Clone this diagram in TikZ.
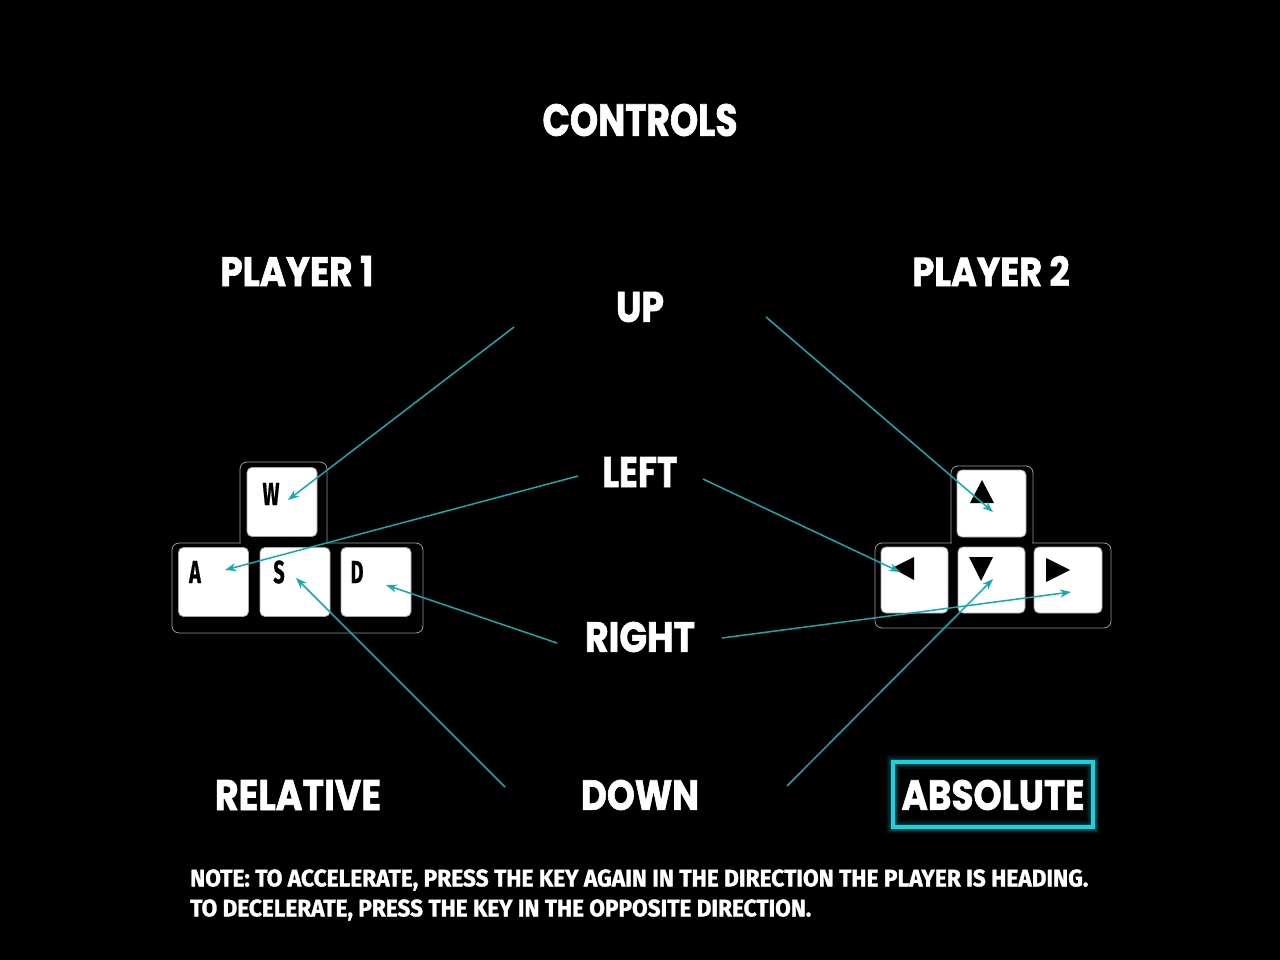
\documentclass[tikz,border=0pt]{standalone}
\usepackage{fontspec}
\usepackage{graphicx}
\usetikzlibrary{arrows.meta}
\newfontfamily\headfont{Poppins}[BoldFeatures={FakeBold=1.6}]
\newfontfamily\notefont{Fira Sans}[BoldFeatures={FakeBold=1.4}]
\newfontfamily\keyfont{Fira Sans}[BoldFeatures={FakeBold=0.8}]
\definecolor{teal1}{HTML}{14A9B0}
\definecolor{glow}{HTML}{19D3E0}
\newcommand\hd[2]{\resizebox{#1pt}{30pt}{\headfont\bfseries #2}}
\tikzset{
  head/.style={text=white, inner sep=0pt, anchor=center},
  keycap/.style={fill=white, draw=gray!70, line width=0.8pt, rounded corners=5pt, minimum width=70pt, minimum height=69pt, inner sep=0pt},
  keyback/.style={fill=black, draw=gray!75, line width=0.8pt, rounded corners=7pt},
  keyletter/.style={font=\keyfont\bfseries\fontsize{32}{32}\selectfont, inner sep=0pt, xscale=0.62},
  link/.style={draw=teal1, line width=1.5pt, -{Stealth[length=11pt,width=8pt]}},
  tri/.style={fill=black},
  notetext/.style={text=white, inner sep=0pt, anchor=west}
}
\begin{document}
\begin{tikzpicture}[x=1pt,y=-1pt]
\fill[black] (0,0) rectangle (1280,960);
\useasboundingbox (0,0) rectangle (1280,960);

% titles
\node[head] (title) at (640,120) {\resizebox{195pt}{32pt}{\headfont\bfseries CONTROLS}};
\node[head] (p1) at (297,271) {\hd{153}{PLAYER 1}};
\node[head] (p2) at (991,271) {\hd{157}{PLAYER 2}};
\node[head] (up) at (640,307) {\hd{48}{UP}};
\node[head] (left) at (640,472) {\hd{75}{LEFT}};
\node[head] (right) at (640,637) {\hd{110}{RIGHT}};
\node[head] (down) at (640,795) {\hd{118}{DOWN}};
\node[head] (rel) at (298,795) {\hd{166}{RELATIVE}};
\node[head] (abs) at (993,795) {\hd{183}{ABSOLUTE}};

% glowing box around ABSOLUTE
\foreach \w/\o in {14/0.06, 10/0.10, 7/0.18}{
  \draw[glow, line width=\w pt, opacity=\o] (893,762) rectangle (1093,827);
}
\node[draw=glow, line width=4pt, minimum width=200pt, minimum height=65pt, inner sep=0pt] (absbox) at (993,794.5) {};

% left keys backing
\draw[keyback] (240,462) rectangle (327,552);
\draw[keyback] (172,543) rectangle (423,633);
\fill[black, rounded corners=6pt] (241,463) rectangle (326,552);
\fill[black, rounded corners=6pt] (173,544) rectangle (422,632);
\node[keycap] (W) at (282,502) {};
\node[keycap] (A) at (213.5,582) {};
\node[keycap] (S) at (295,582) {};
\node[keycap] (D) at (376,582) {};
\node[keyletter] (Wl) at (271,494) {W};
\node[keyletter] (Al) at (195,572) {A};
\node[keyletter] (Sl) at (279,572) {S};
\node[keyletter] (Dl) at (357,572) {D};

% right keys backing
\draw[keyback] (951,466) rectangle (1033,552);
\draw[keyback] (875,543) rectangle (1111,628);
\fill[black, rounded corners=6pt] (952,467) rectangle (1032,552);
\fill[black, rounded corners=6pt] (876,544) rectangle (1110,627);
\node[keycap, minimum width=69pt, minimum height=67pt] (KU) at (991.5,503.5) {};
\node[keycap, minimum width=67pt, minimum height=66pt] (KL) at (914.5,580) {};
\node[keycap, minimum width=67pt, minimum height=66pt] (KD) at (991.5,580) {};
\node[keycap, minimum width=68pt, minimum height=66pt] (KR) at (1068,580) {};
\fill[tri] (982,480) -- (970,503) -- (994,503) -- cycle;
\fill[tri] (892,568) -- (914,557) -- (914,580) -- cycle;
\fill[tri] (969,557) -- (993,557) -- (981,581) -- cycle;
\fill[tri] (1070,570) -- (1046,558) -- (1046,582) -- cycle;

% arrow end points
\coordinate (upS1) at (514,327);
\coordinate (upS2) at (766,317);
\coordinate (leftS1) at (578,476);
\coordinate (leftS2) at (703,479);
\coordinate (rightS1) at (557,643);
\coordinate (rightS2) at (722,638);
\coordinate (downS1) at (505,787);
\coordinate (downS2) at (787,786);
\coordinate (wE) at (288,500);
\coordinate (aE) at (225,570);
\coordinate (dE) at (386,585);
\coordinate (sE) at (296,578);
\coordinate (kuE) at (993,512);
\coordinate (klE) at (900,572);
\coordinate (krE) at (1071,592);
\coordinate (kdE) at (993,579);

\draw[link] (upS1) -- (wE);
\draw[link] (leftS1) -- (aE);
\draw[link] (rightS1) -- (dE);
\draw[link] (downS1) -- (sE);
\draw[link] (upS2) -- (kuE);
\draw[link] (leftS2) -- (klE);
\draw[link] (rightS2) -- (krE);
\draw[link] (downS2) -- (kdE);

% note
\node[notetext] (note1) at (190,880) {\resizebox{898pt}{17pt}{\notefont\bfseries NOTE: TO ACCELERATE, PRESS THE KEY AGAIN IN THE DIRECTION THE PLAYER IS HEADING.}};
\node[notetext] (note2) at (190,910) {\resizebox{621pt}{17pt}{\notefont\bfseries TO DECELERATE, PRESS THE KEY IN THE OPPOSITE DIRECTION.}};
\end{tikzpicture}
\end{document}
